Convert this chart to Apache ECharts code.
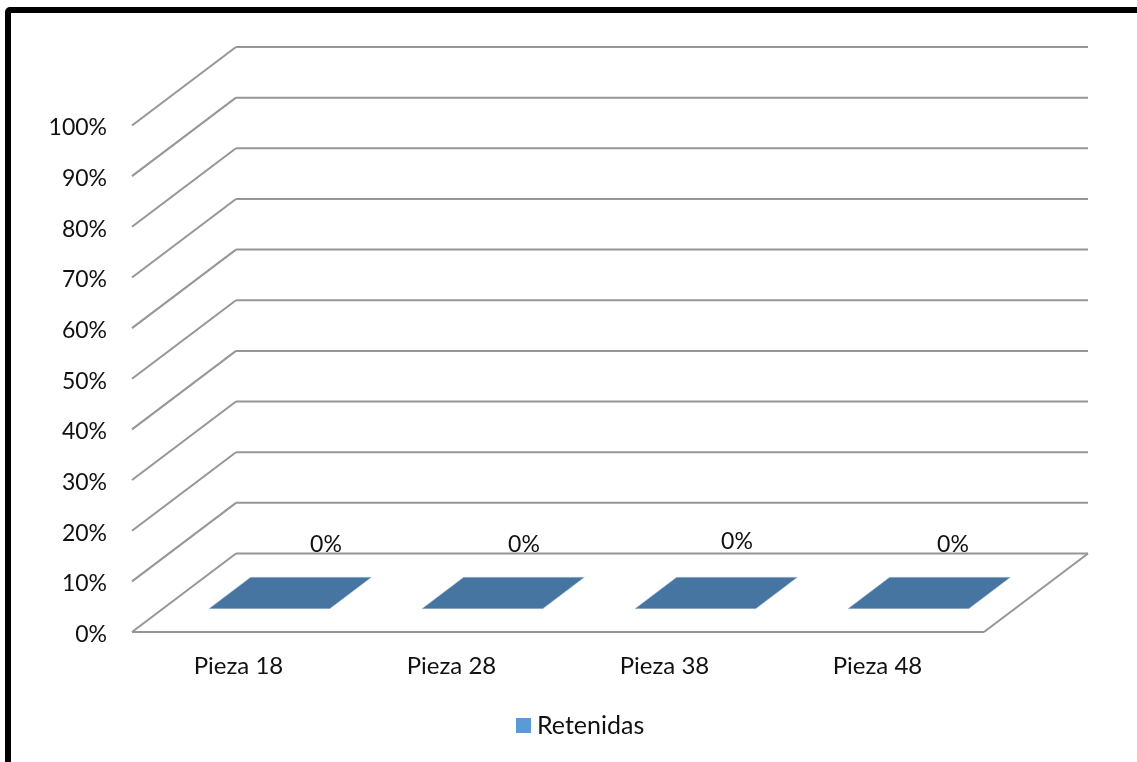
<!DOCTYPE html>
<html>
<head>
<meta charset="utf-8">
<style>html,body{margin:0;padding:0;background:#fff}#chart{width:1137px;height:762px}</style>
<script src="https://cdn.jsdelivr.net/npm/echarts@6/dist/echarts.min.js"></script>
</head>
<body>
<div id="chart"></div>
<script>
// Share of retained third molars per tooth
const categories = ['Pieza 18', 'Pieza 28', 'Pieza 38', 'Pieza 48'];
const retenidas = [0, 0, 0, 0];
const percentTicks = [0, 10, 20, 30, 40, 50, 60, 70, 80, 90, 100];

// Oblique projection of the chart box: how far the back wall sits from the front plane
const DEPTH_X = 104;
const DEPTH_Y = -78.5;
// Columns occupy this slice of the box depth and this share of the category band
const COLUMN_DEPTH = [0.297, 0.697];
const COLUMN_WIDTH = 0.567;
// Small per-label nudges of the value labels
const LABEL_DX = [15, 0, 0, 3];
const LABEL_DY = [0, 0, -3, 0];

const FONT = 'Lato, "Open Sans", sans-serif';
const TEXT = '#111';
const GRID = '#969696';
const CAP = '#4775A1';

function renderGridLine(params, api) {
  const v = api.value(0);
  const box = params.coordSys;
  const y = api.coord([0, v])[1];
  const x0 = box.x, x1 = box.x + box.width;
  const bx0 = x0 + DEPTH_X, bx1 = x1 + DEPTH_X, by = y + DEPTH_Y;
  const children = [
    { type: 'line', shape: { x1: x0, y1: y, x2: bx0, y2: by },
      style: { stroke: GRID, lineWidth: 2 } },
    { type: 'line', shape: { x1: bx0, y1: by, x2: bx1, y2: by },
      style: { stroke: GRID, lineWidth: 2 } }
  ];
  if (v === 0) {
    children.push(
      { type: 'line', shape: { x1: x0, y1: y, x2: x1, y2: y },
        style: { stroke: GRID, lineWidth: 2 } },
      { type: 'line', shape: { x1: x1, y1: y, x2: bx1, y2: by },
        style: { stroke: GRID, lineWidth: 2 } }
    );
  }
  return { type: 'group', children };
}

function renderColumn(params, api) {
  const i = api.value(0);
  const v = api.value(1);
  const base = api.coord([i, 0]);
  const top = api.coord([i, v]);
  const half = api.size([1, 0])[0] * COLUMN_WIDTH / 2;
  const at = (x, y, d) => [x + DEPTH_X * d, y + DEPTH_Y * d];
  const [dFront, dBack] = COLUMN_DEPTH;
  const cap = [
    at(base[0] - half, top[1], dFront),
    at(base[0] + half, top[1], dFront),
    at(base[0] + half, top[1], dBack),
    at(base[0] - half, top[1], dBack)
  ];
  const front = [
    at(base[0] - half, base[1], dFront),
    at(base[0] + half, base[1], dFront),
    at(base[0] + half, top[1], dFront),
    at(base[0] - half, top[1], dFront)
  ];
  const mid = at(base[0], top[1], dBack);
  return {
    type: 'group',
    children: [
      { type: 'polygon', shape: { points: front }, style: { fill: '#5B9BD5' } },
      { type: 'polygon', shape: { points: cap },
        style: { fill: CAP, stroke: '#A9C2DA', lineWidth: 0.5 } },
      { type: 'text', z2: 10,
        style: {
          x: mid[0] + LABEL_DX[i], y: mid[1] - 33 + LABEL_DY[i],
          text: v + '%', fill: TEXT, font: '23px ' + FONT,
          align: 'center', verticalAlign: 'middle'
        } }
    ]
  };
}

const chart = echarts.init(document.getElementById('chart'), null, { renderer: 'canvas' });
chart.setOption({
  backgroundColor: '#fff',
  animation: false,
  graphic: [{
    type: 'rect',
    silent: true,
    shape: { x: 8, y: 10, width: 1300, height: 900, r: 2 },
    style: { fill: 'transparent', stroke: '#000', lineWidth: 6 }
  }],
  grid: { left: 132, top: 125.5, width: 852, height: 506.5, containLabel: false },
  legend: {
    data: ['Retenidas'],
    left: 516, top: 713,
    padding: 0,
    icon: 'rect',
    itemWidth: 15, itemHeight: 15, itemGap: 6,
    textStyle: { color: TEXT, fontFamily: FONT, fontSize: 25, padding: [0, 0, 0, 1] }
  },
  xAxis: {
    type: 'category',
    data: categories,
    axisLine: { show: false },
    axisTick: { show: false },
    axisLabel: { color: TEXT, fontFamily: FONT, fontSize: 24, margin: 22 }
  },
  yAxis: {
    type: 'value',
    min: 0, max: 100, interval: 10,
    axisLine: { show: false },
    axisTick: { show: false },
    splitLine: { show: false },
    axisLabel: {
      margin: 25,
      formatter: '{pct|{value}%}',
      rich: {
        pct: { color: TEXT, fontFamily: FONT, fontSize: 23, padding: [5, 0, 0, 0] }
      }
    }
  },
  series: [
    {
      type: 'custom',
      name: 'grid lines',
      silent: true,
      encode: { y: 0 },
      renderItem: renderGridLine,
      data: percentTicks.map(t => [t]),
      z: 1
    },
    {
      type: 'custom',
      name: 'Retenidas',
      itemStyle: { color: '#5B9BD5' },
      encode: { x: 0, y: 1 },
      renderItem: renderColumn,
      data: retenidas.map((v, i) => [i, v]),
      z: 2
    }
  ]
});
</script>
</body>
</html>
